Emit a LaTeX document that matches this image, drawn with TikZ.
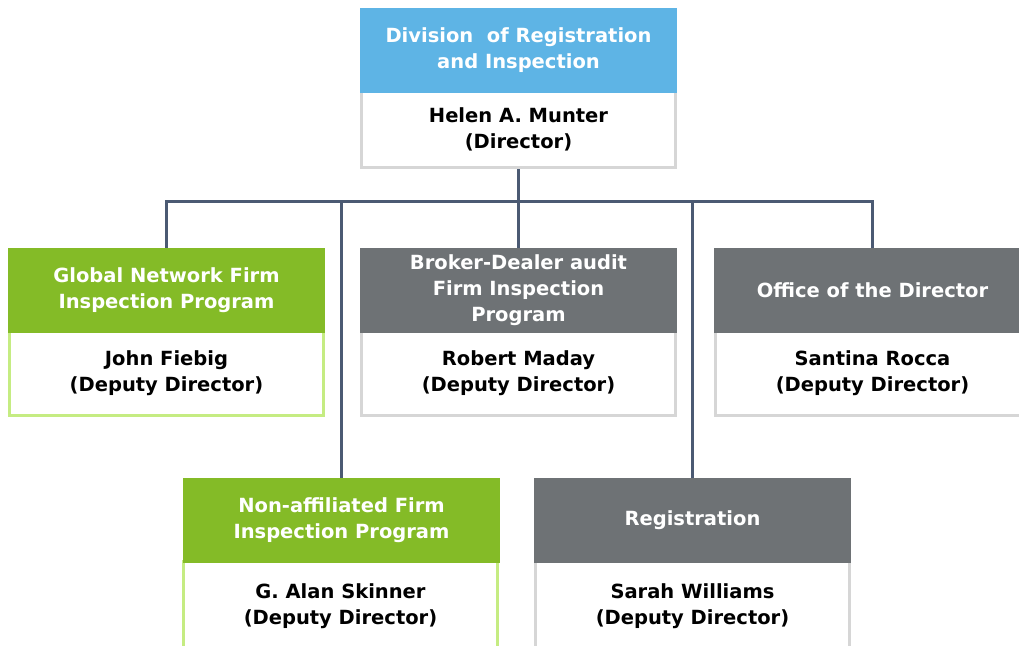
\documentclass[tikz,border=0pt]{standalone}
\usepackage{fontspec}
\setmainfont{DejaVu Sans}
\usetikzlibrary{backgrounds}
\definecolor{hblue}{RGB}{94,180,229}
\definecolor{hgreen}{RGB}{132,187,39}
\definecolor{hgrey}{RGB}{110,114,117}
\definecolor{bgreen}{RGB}{197,236,130}
\definecolor{bgrey}{RGB}{214,214,214}
\definecolor{conn}{RGB}{75,90,115}
\tikzset{
  hdr/.style={rectangle, inner sep=0pt, outer sep=0pt, minimum width=317pt, minimum height=85pt,
    anchor=north west, text=white, align=center, font=\fontsize{19.5}{26}\selectfont\bfseries},
  bodybox/.style={rectangle, draw=#1, line width=3pt, fill=white, inner sep=0pt, outer sep=0pt,
    minimum width=314pt, minimum height=84pt, anchor=north west, text=black, align=center,
    font=\fontsize{19.5}{26}\selectfont\bfseries},
  link/.style={draw=conn, line width=3pt}
}
\begin{document}
\begin{tikzpicture}[x=1pt,y=-1pt]
\begin{scope}
\clip (0,0) rectangle (1019,645);
% bodies
\node[bodybox=bgrey, minimum height=76pt] (b0) at (361.5,91) {Helen A. Munter\\(Director)};
\node[bodybox=bgreen] (b1) at (9.5,331) {John Fiebig\\(Deputy Director)};
\node[bodybox=bgrey] (b2) at (361.5,331) {Robert Maday\\(Deputy Director)};
\node[bodybox=bgrey] (b3) at (715.5,331) {Santina Rocca\\(Deputy Director)};
\node[bodybox=bgreen, minimum height=90pt] (b4) at (183.5,561) {G. Alan Skinner\\(Deputy Director)};
\node[bodybox=bgrey, minimum height=90pt] (b5) at (535.5,561) {Sarah Williams\\(Deputy Director)};
% headers
\node[hdr, fill=hblue] (h0) at (360,8) {Division\ \ of Registration\\and Inspection};
\node[hdr, fill=hgreen] (h1) at (8,248) {Global Network Firm\\Inspection Program};
\node[hdr, fill=hgrey] (h2) at (360,248) {Broker-Dealer audit\\Firm Inspection\\Program};
\node[hdr, fill=hgrey] (h3) at (714,248) {Office of the Director};
\node[hdr, fill=hgreen] (h4) at (183,478) {Non-affiliated Firm\\Inspection Program};
\node[hdr, fill=hgrey] (h5) at (534,478) {Registration};
% connectors (behind boxes)
\path (b0.south) ++(0,34) coordinate (bus);
\begin{scope}[on background layer]
\fill[white] (0,0) rectangle (1019,645);
\draw[link] (b0.south) -- (bus);
\draw[link] (h1.north) |- (bus);
\draw[link] (h3.north) |- (bus);
\draw[link] (h2.north) -- (h2.north |- bus);
\draw[link] (h4.north) -- (h4.north |- bus);
\draw[link] (h5.north) -- (h5.north |- bus);
\end{scope}
\end{scope}
\pgfresetboundingbox
\useasboundingbox (0,0) rectangle (1019,645);
\end{tikzpicture}
\end{document}
